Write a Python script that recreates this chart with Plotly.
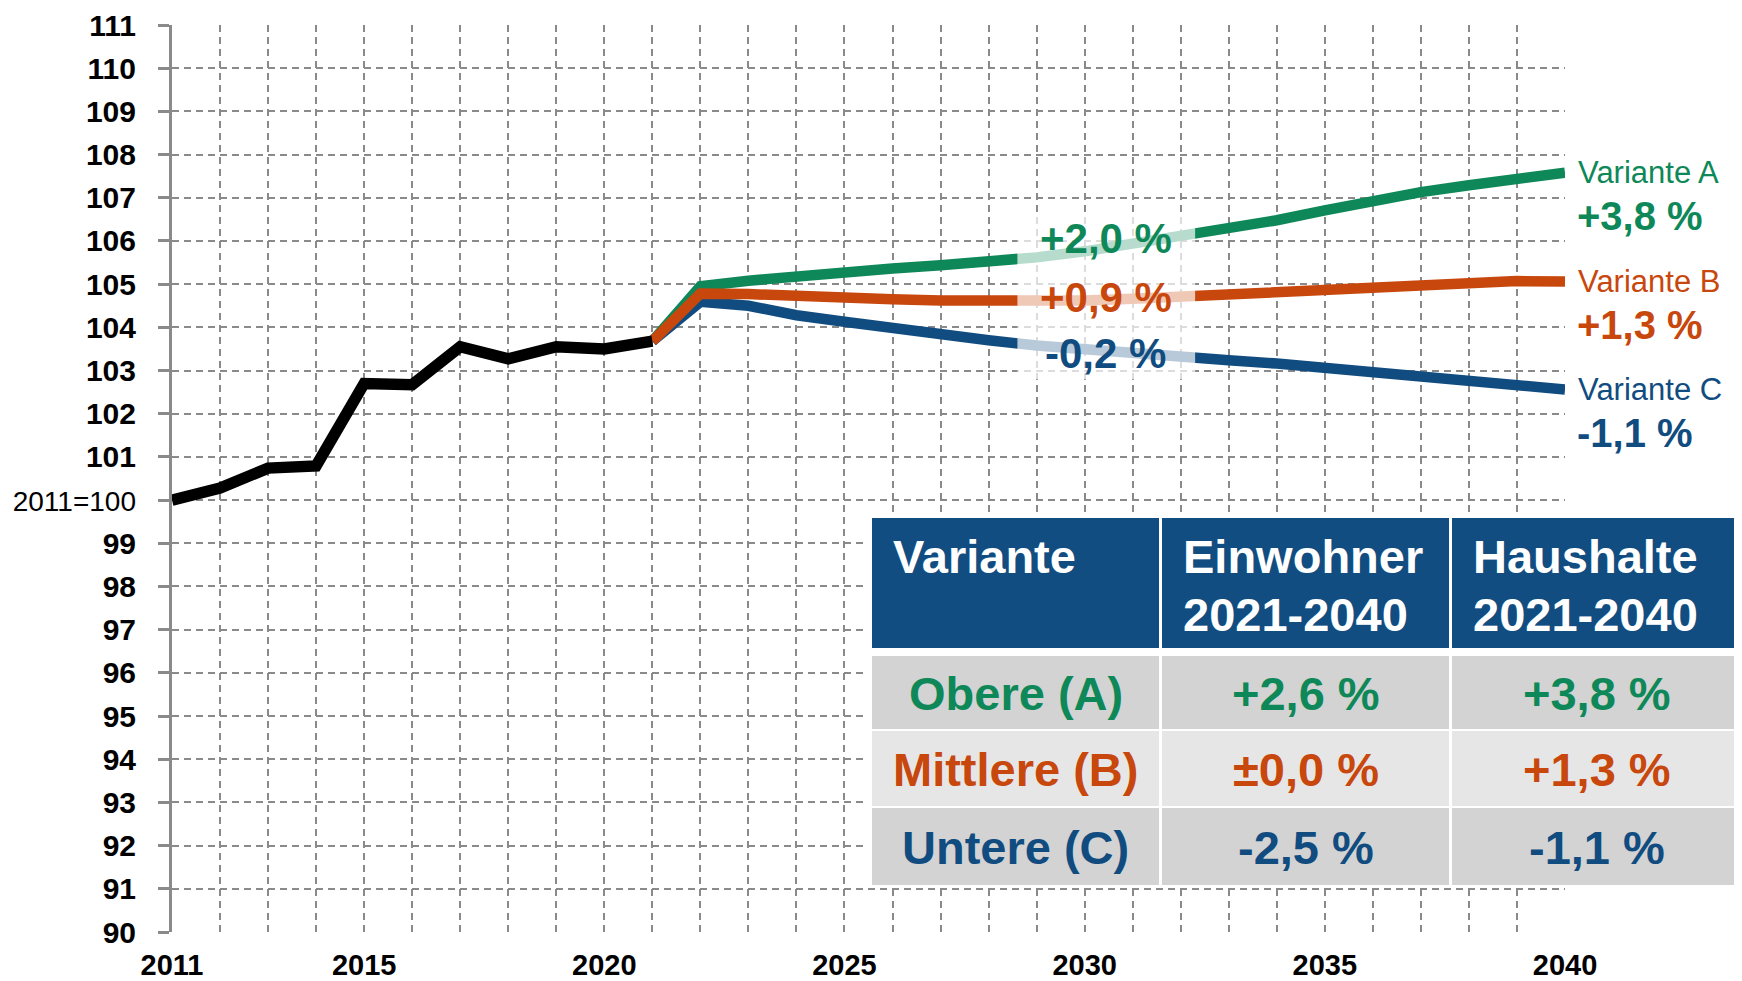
import plotly.graph_objects as go

# ---------------- data ----------------
years_hist = list(range(2011, 2022))
index_hist = [100.0, 100.28, 100.74, 100.79, 102.7, 102.67, 103.55, 103.27, 103.55, 103.5, 103.68]

years_proj = list(range(2021, 2041))
variant_a = [103.68, 104.95, 105.08, 105.19, 105.28, 105.36, 105.44, 105.52, 105.62, 105.76,
             105.93, 106.12, 106.28, 106.48, 106.71, 106.93, 107.13, 107.29, 107.45, 107.58]
variant_b = [103.68, 104.78, 104.77, 104.71, 104.67, 104.65, 104.62, 104.61, 104.62, 104.62,
             104.66, 104.71, 104.75, 104.82, 104.89, 104.95, 105.0, 105.04, 105.07, 105.06]
variant_c = [103.68, 104.59, 104.5, 104.28, 104.13, 103.97, 103.82, 103.7, 103.58, 103.48,
             103.38, 103.3, 103.24, 103.16, 103.05, 102.95, 102.85, 102.77, 102.66, 102.56]

x_tick_years = [2011, 2015, 2020, 2025, 2030, 2035, 2040]
y_tick_values = list(range(90, 112))
base_label = "2011=100"

variant_names = ["Variante A", "Variante B", "Variante C"]
variant_change_2040 = ["+3,8 %", "+1,3 %", "-1,1 %"]
variant_change_2030 = ["+2,0 %", "+0,9 %", "-0,2 %"]

table_header_1 = ["Variante", "Einwohner", "Haushalte"]
table_header_2 = ["", "2021-2040", "2021-2040"]
table_variants = ["Obere (A)", "Mittlere (B)", "Untere (C)"]
table_einwohner = ["+2,6 %", "±0,0 %", "-2,5 %"]
table_haushalte = ["+3,8 %", "+1,3 %", "-1,1 %"]

# ---------------- styles ----------------
GREEN = "#0E8858"
ORANGE = "#C8470D"
BLUE = "#114C80"
GRID = "#8a8a8a"
AXIS = "#8a8a8a"
FONT = "Liberation Sans, Arial, sans-serif"

W, H = 1742, 981
OFF = 8  # default page body margin shifts the figure
# plot area on screen: x 172..1565, y 25..932
L, T = 172 - OFF, 25 - OFF
R, B = W - (1565 - OFF), H - (932 - OFF)
PW, PH = W - L - R, H - T - B


def px_x(px):
    return (px - OFF - L) / PW


def px_y(py):
    return (H - B - (py - OFF)) / PH


fig = go.Figure()
colors = [GREEN, ORANGE, BLUE]
series = [variant_a, variant_b, variant_c]
for vals, col in [(variant_a, GREEN), (variant_c, BLUE), (variant_b, ORANGE)]:
    fig.add_trace(go.Scatter(x=years_proj, y=vals, mode="lines",
                             line=dict(color=col, width=10.5), hoverinfo="skip", showlegend=False))
fig.add_trace(go.Scatter(x=years_hist, y=index_hist, mode="lines",
                         line=dict(color="black", width=11.5), hoverinfo="skip", showlegend=False))

all_years = list(range(2011, 2041))
x_ticktext = [f"<b>{y}</b>" if y in x_tick_years else "" for y in all_years]
y_ticktext = [f"<span style='font-size:28px'>{base_label}</span>" if v == 100 else f"<b>{v}</b>"
              for v in y_tick_values]

fig.update_layout(
    width=W, height=H,
    margin=dict(l=L, r=R, t=T, b=B, pad=0),
    paper_bgcolor="white", plot_bgcolor="white",
    showlegend=False,
    xaxis=dict(range=[2011, 2040], tickmode="array", tickvals=all_years, ticktext=x_ticktext,
               showgrid=True, gridcolor=GRID, gridwidth=1.5, griddash="7px,5px",
               zeroline=False, showline=False, ticks="", automargin=False,
               tickfont=dict(family=FONT, size=29, color="black"),
               ticklabelstandoff=13),
    yaxis=dict(range=[90, 111], tickmode="array", tickvals=y_tick_values, ticktext=y_ticktext,
               showgrid=True, gridcolor=GRID, gridwidth=1.5, griddash="7px,5px",
               zeroline=False, showline=True, linecolor=AXIS, linewidth=3,
               ticks="outside", ticklen=11, tickwidth=3, tickcolor=AXIS, automargin=False,
               tickfont=dict(family=FONT, size=30, color="black"),
               ticklabelstandoff=16),
)

# faded zone behind the 2030 labels
fig.add_shape(type="rect", xref="x", yref="y", x0=2028.6, x1=2032.3, y0=102.8, y1=106.6,
              fillcolor="rgba(255,255,255,0.7)", line=dict(width=0), layer="above")

annotations = []
mid_shift = [13, 3, -4]
for i in range(3):
    vals = series[i]
    col = colors[i]
    annotations.append(dict(x=2040, y=vals[-1], xref="x", yref="y", text=variant_names[i],
                            xanchor="left", yanchor="middle", xshift=11, showarrow=False,
                            font=dict(family=FONT, size=31, color=col)))
    annotations.append(dict(x=2040, y=vals[-1], xref="x", yref="y", text=f"<b>{variant_change_2040[i]}</b>",
                            xanchor="left", yanchor="middle", xshift=10, yshift=-43, showarrow=False,
                            font=dict(family=FONT, size=40, color=col)))
    annotations.append(dict(x=2030.44, y=vals[years_proj.index(2030)], xref="x", yref="y",
                            text=f"<b>{variant_change_2030[i]}</b>",
                            xanchor="center", yanchor="middle", yshift=mid_shift[i], showarrow=False,
                            font=dict(family=FONT, size=42, color=col)))

# ---------------- table (screen pixel coordinates) ----------------
col_edges = [(872, 1159), (1162, 1449), (1452, 1742)]
header_y = (518, 648)
row_y = [(656, 729), (731, 806), (808, 885)]
row_fill = ["#D3D3D3", "#E6E6E6", "#D3D3D3"]
HEAD_FILL = "#124D81"

fig.add_shape(type="rect", xref="paper", yref="paper", x0=px_x(868), x1=px_x(1750),
              y0=px_y(888), y1=px_y(515), fillcolor="white", line=dict(width=0), layer="above")
for c, (x0, x1) in enumerate(col_edges):
    fig.add_shape(type="rect", xref="paper", yref="paper", x0=px_x(x0), x1=px_x(x1 + (8 if c == 2 else 0)),
                  y0=px_y(header_y[1]), y1=px_y(header_y[0]), fillcolor=HEAD_FILL,
                  line=dict(width=0), layer="above")
    annotations.append(dict(x=px_x(x0 + 19), y=px_y(556), xref="paper", yref="paper",
                            text=f"<b>{table_header_1[c]}</b>", xanchor="left", yanchor="middle",
                            showarrow=False, font=dict(family=FONT, size=47, color="white")))
    if table_header_2[c]:
        annotations.append(dict(x=px_x(x0 + 19), y=px_y(614), xref="paper", yref="paper",
                                text=f"<b>{table_header_2[c]}</b>", xanchor="left", yanchor="middle",
                                showarrow=False, font=dict(family=FONT, size=47, color="white")))

cols_text = [table_variants, table_einwohner, table_haushalte]
for r, (y0, y1) in enumerate(row_y):
    for c, (x0, x1) in enumerate(col_edges):
        fig.add_shape(type="rect", xref="paper", yref="paper", x0=px_x(x0), x1=px_x(x1 + (8 if c == 2 else 0)),
                      y0=px_y(y1), y1=px_y(y0), fillcolor=row_fill[r],
                      line=dict(width=0), layer="above")
        annotations.append(dict(x=px_x((x0 + x1) / 2), y=px_y((y0 + y1) / 2 + 1), xref="paper", yref="paper",
                                text=f"<b>{cols_text[c][r]}</b>", xanchor="center", yanchor="middle",
                                showarrow=False, font=dict(family=FONT, size=47, color=colors[r])))

fig.update_layout(annotations=annotations)
fig.write_html("out.html")
